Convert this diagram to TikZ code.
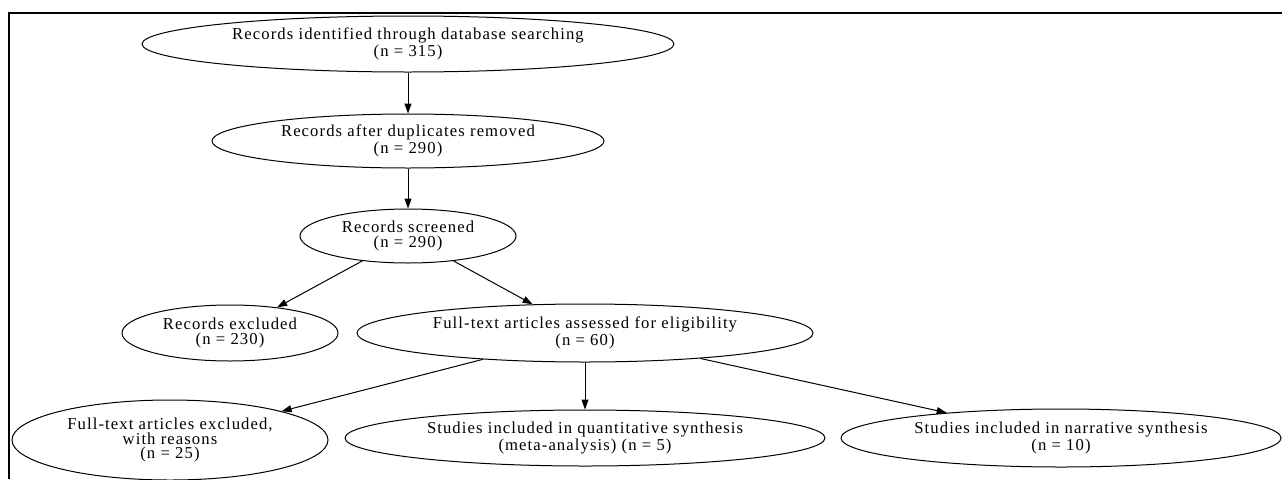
\documentclass[tikz,border=0pt]{standalone}
\usepackage{fontspec}
\setmainfont[LetterSpace=6.5]{Liberation Serif}
\usetikzlibrary{shapes.geometric,arrows.meta}

\tikzset{
  stage/.style 2 args={ellipse, draw, line width=0.6pt, inner sep=0pt,
    align=center, minimum width={1.2pt*#1}, minimum height={1.2pt*#2}},
  flow/.style={-{Triangle[length=6pt,width=4.2pt]}, line width=0.6pt}
}

\begin{document}
\begin{tikzpicture}[x=0.6pt, y=-0.6pt, font=\fontsize{10}{8.7}\selectfont]
    \useasboundingbox (0,0) rectangle (1282,479);
    % Frame (top and left edge)
    \draw[line width=1.2pt] (8.5,479) -- (8.5,12.7) -- (1282,12.7);

    % Identification and screening
    \node[stage={266}{28}] (ident) at (408,44) {Records identified through database searching\\(n = 315)};
    \node[stage={196}{27}] (dedup) at (408,141) {Records after duplicates removed\\(n = 290)};
    \node[stage={108}{27}] (screen) at (408,236) {Records screened\\(n = 290)};

    % Eligibility
    \node[stage={108}{28}] (recexcl) at (230,333) {Records excluded\\(n = 230)};
    \node[stage={228}{29}] (assess) at (585,333) {Full-text articles assessed for eligibility\\(n = 60)};

    % Included
    \node[stage={158}{40}] (ftexcl) at (170,440) {Full-text articles excluded,\\with reasons\\(n = 25)};
    \node[stage={240}{28}] (quant) at (585,438) {Studies included in quantitative synthesis\\(meta-analysis) (n = 5)};
    \node[stage={220}{29}] (narr) at (1061,438) {Studies included in narrative synthesis\\(n = 10)};

    % Connectors
    \draw[flow] (ident) -- (dedup);
    \draw[flow] (dedup) -- (screen);
    \draw[flow] (screen) -- (recexcl);
    \draw[flow] (screen) -- (assess);
    \draw[flow] (assess) -- (ftexcl);
    \draw[flow] (assess) -- (quant);
    \draw[flow] (assess) -- (narr);
\end{tikzpicture}
\end{document}
